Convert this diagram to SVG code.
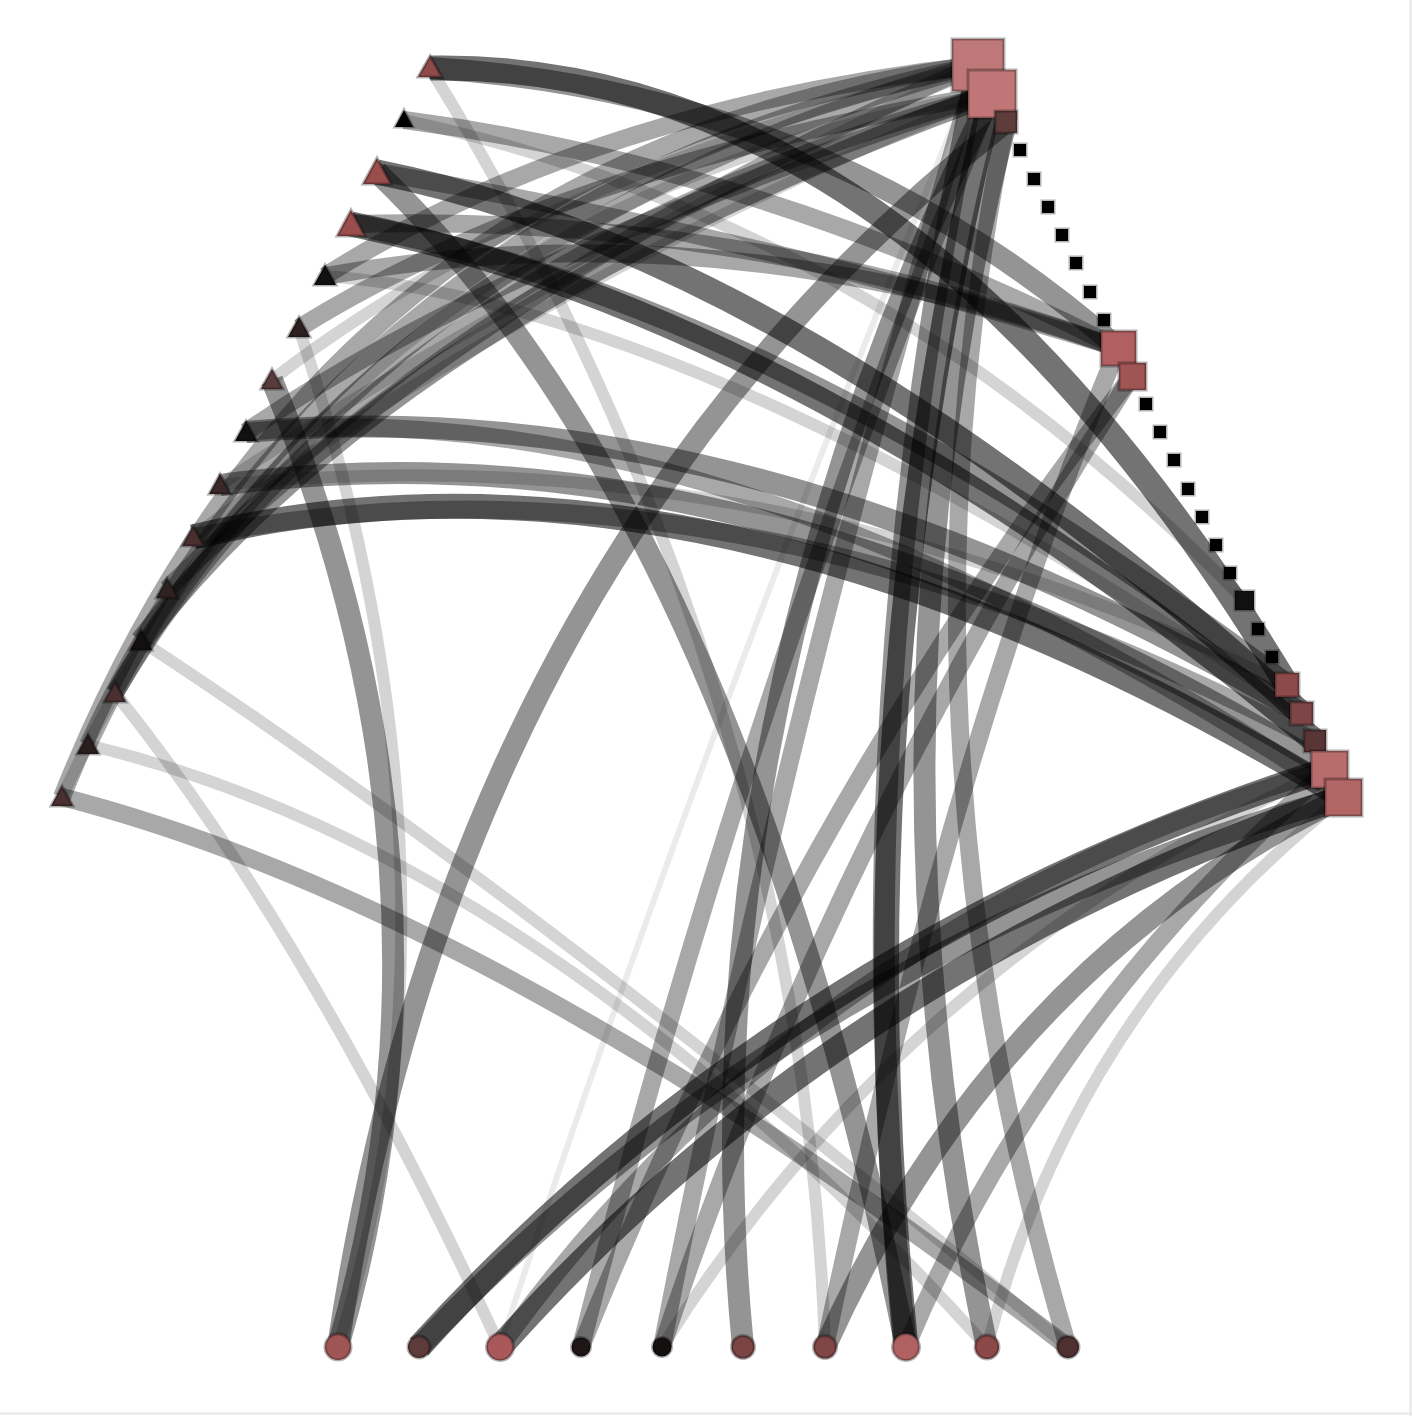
<svg xmlns="http://www.w3.org/2000/svg" width="1412" height="1416" viewBox="0 0 1412 1416">
<style>
.e{fill:none;stroke:#000;stroke-linecap:butt}
.e1{stroke-opacity:.55;stroke-width:25}
.e2{stroke-opacity:.42;stroke-width:22}
.e3{stroke-opacity:.34;stroke-width:18}
.e4{stroke-opacity:.17;stroke-width:12}
.e5{stroke-opacity:.08;stroke-width:6}
.n{stroke:#000;stroke-opacity:.3;stroke-width:3}
</style>
<rect x="0" y="0" width="1412" height="1416" fill="#fff"/>
<line x1="1410.5" y1="0" x2="1410.5" y2="1416" stroke="#e6e6e6" stroke-width="2"/>
<line x1="0" y1="1413.5" x2="1412" y2="1413.5" stroke="#e6e6e6" stroke-width="2"/>
<g id="edges">
<path class="e e1" d="M430,68 Q910,60 1287,685"/>
<path class="e e2" d="M430,68 Q826,92 1118,348"/>
<path class="e e3" d="M404,120 Q760,166 1118,348"/>
<path class="e e1" d="M377,172 Q801,257 1301,713"/>
<path class="e e3" d="M377,172 Q772,240 1118,348"/>
<path class="e e1" d="M351,224 Q808,317 1315,741"/>
<path class="e e2" d="M351,224 Q782,305 1287,685"/>
<path class="e e3" d="M351,224 Q746,213 1118,348"/>
<path class="e e3" d="M325,276 Q719,207 1118,348"/>
<path class="e e4" d="M325,276 Q707,305 1301,713"/>
<path class="e e2" d="M246,432 Q747,387 1301,713"/>
<path class="e e2" d="M220,485 Q746,413 1329,769"/>
<path class="e e4" d="M220,485 Q760,430 1287,685"/>
<path class="e e1" d="M193,537 Q712,412 1343,797"/>
<path class="e e3" d="M193,537 Q720,430 1315,741"/>
<path class="e e3" d="M246,432 Q725,385 1343,797"/>
<path class="e e4" d="M404,120 Q877,220 1244,600"/>
<path class="e e3" d="M978,65 Q320,149 62,797"/>
<path class="e e3" d="M978,65 Q346,194 88,745"/>
<path class="e e4" d="M992,94 Q340,200 62,797"/>
<path class="e e3" d="M992,94 Q366,265 115,693"/>
<path class="e e3" d="M978,65 Q380,230 115,693"/>
<path class="e e2" d="M992,94 Q393,312 141,641"/>
<path class="e e3" d="M978,65 Q487,272 167,589"/>
<path class="e e4" d="M992,94 Q527,284 193,537"/>
<path class="e e3" d="M978,65 Q589,109 325,276"/>
<path class="e e3" d="M992,94 Q555,168 299,328"/>
<path class="e e4" d="M978,65 Q535,176 272,380"/>
<path class="e e4" d="M978,65 Q521,284 220,485"/>
<path class="e e3" d="M992,94 Q501,256 246,432"/>
<path class="e e1" d="M992,94 Q841,720 906,1347"/>
<path class="e e2" d="M978,65 Q838,734 906,1347"/>
<path class="e e2" d="M1006,122 Q853,726 987,1347"/>
<path class="e e3" d="M1006,122 Q883,725 1068,1347"/>
<path class="e e2" d="M992,94 Q682,720 743,1347"/>
<path class="e e3" d="M978,65 Q780,734 662,1347"/>
<path class="e e3" d="M992,94 Q733,740 581,1347"/>
<path class="e e2" d="M1006,122 Q455,560 338,1347"/>
<path class="e e5" d="M978,65 Q701,734 500,1347"/>
<path class="e e3" d="M1132,376 Q803,798 581,1347"/>
<path class="e e3" d="M1132,376 Q823,858 662,1347"/>
<path class="e e3" d="M1118,348 Q949,753 825,1347"/>
<path class="e e1" d="M1329,769 Q786,942 419,1347"/>
<path class="e e2" d="M1343,797 Q799,948 419,1347"/>
<path class="e e1" d="M1343,797 Q838,968 500,1347"/>
<path class="e e3" d="M1329,769 Q805,922 500,1347"/>
<path class="e e2" d="M1343,797 Q996,968 825,1347"/>
<path class="e e3" d="M1329,769 Q1042,1022 906,1347"/>
<path class="e e4" d="M1329,769 Q904,962 662,1347"/>
<path class="e e4" d="M1343,797 Q1075,1008 987,1347"/>
<path class="e e2" d="M272,380 Q475,875 338,1347"/>
<path class="e e4" d="M299,328 Q482,881 338,1347"/>
<path class="e e4" d="M430,68 Q802,672 825,1347"/>
<path class="e e4" d="M115,693 Q312,939 500,1347"/>
<path class="e e3" d="M62,797 Q495,908 1068,1347"/>
<path class="e e4" d="M88,745 Q541,853 987,1347"/>
<path class="e e4" d="M141,641 Q515,885 1068,1347"/>
<path class="e e2" d="M377,172 Q739,520 906,1347"/>
</g>
<g id="L1"><path class="n" fill="#8f4a4a" d="M430,56 L442,77 L418,77 Z"/></g>
<g id="L2"><path class="n" fill="#000" d="M404,110 L413,127 L395,127 Z"/></g>
<g id="L3"><path class="n" fill="#9a4d4d" d="M377,158 L391,184 L363,184 Z"/></g>
<g id="L4"><path class="n" fill="#9a4d4d" d="M351,210 L365,236 L337,236 Z"/></g>
<g id="L5"><path class="n" fill="#111" d="M325,265 L336,285 L314,285 Z"/></g>
<g id="L6"><path class="n" fill="#2e2020" d="M299,317 L310,337 L288,337 Z"/></g>
<g id="L7"><path class="n" fill="#5a3a3a" d="M272,369 L283,389 L261,389 Z"/></g>
<g id="L8"><path class="n" fill="#111" d="M246,421 L257,441 L235,441 Z"/></g>
<g id="L9"><path class="n" fill="#3a2828" d="M220,474 L231,494 L209,494 Z"/></g>
<g id="L10"><path class="n" fill="#4a2f2f" d="M193,526 L204,546 L182,546 Z"/></g>
<g id="L11"><path class="n" fill="#2f2222" d="M167,578 L178,598 L156,598 Z"/></g>
<g id="L12"><path class="n" fill="#141010" d="M141,630 L152,650 L130,650 Z"/></g>
<g id="L13"><path class="n" fill="#4a3030" d="M115,682 L126,702 L104,702 Z"/></g>
<g id="L14"><path class="n" fill="#2a1e1e" d="M88,734 L99,754 L77,754 Z"/></g>
<g id="L15"><path class="n" fill="#4a3030" d="M62,786 L73,806 L51,806 Z"/></g>
<g id="R1"><rect class="n" fill="#bf7878" x="952" y="39" width="52" height="52"/></g>
<g id="R2"><rect class="n" fill="#c07676" x="968" y="70" width="48" height="48"/></g>
<g id="R3"><rect class="n" fill="#5e3c3c" x="995" y="111" width="22" height="22"/></g>
<g id="R4"><rect class="n" fill="#000" x="1014" y="144" width="12" height="12"/></g>
<g id="R5"><rect class="n" fill="#000" x="1028" y="173" width="12" height="12"/></g>
<g id="R6"><rect class="n" fill="#000" x="1042" y="201" width="12" height="12"/></g>
<g id="R7"><rect class="n" fill="#000" x="1056" y="229" width="12" height="12"/></g>
<g id="R8"><rect class="n" fill="#000" x="1070" y="257" width="12" height="12"/></g>
<g id="R9"><rect class="n" fill="#000" x="1084" y="286" width="12" height="12"/></g>
<g id="R10"><rect class="n" fill="#000" x="1098" y="314" width="12" height="12"/></g>
<g id="R11"><rect class="n" fill="#b06060" x="1101" y="331" width="35" height="35"/></g>
<g id="R12"><rect class="n" fill="#a05555" x="1119" y="363" width="27" height="27"/></g>
<g id="R13"><rect class="n" fill="#000" x="1140" y="398" width="12" height="12"/></g>
<g id="R14"><rect class="n" fill="#000" x="1154" y="426" width="12" height="12"/></g>
<g id="R15"><rect class="n" fill="#000" x="1168" y="454" width="12" height="12"/></g>
<g id="R16"><rect class="n" fill="#000" x="1182" y="483" width="12" height="12"/></g>
<g id="R17"><rect class="n" fill="#000" x="1196" y="511" width="12" height="12"/></g>
<g id="R18"><rect class="n" fill="#000" x="1210" y="539" width="12" height="12"/></g>
<g id="R19"><rect class="n" fill="#000" x="1224" y="567" width="12" height="12"/></g>
<g id="R20"><rect class="n" fill="#111" x="1235" y="591" width="19" height="19"/></g>
<g id="R21"><rect class="n" fill="#000" x="1252" y="623" width="12" height="12"/></g>
<g id="R22"><rect class="n" fill="#000" x="1266" y="651" width="12" height="12"/></g>
<g id="R23"><rect class="n" fill="#8c4a4a" x="1275" y="673" width="24" height="24"/></g>
<g id="R24"><rect class="n" fill="#7d4545" x="1290" y="702" width="23" height="23"/></g>
<g id="R25"><rect class="n" fill="#5a3535" x="1304" y="730" width="22" height="22"/></g>
<g id="R26"><rect class="n" fill="#b86c6c" x="1311" y="751" width="37" height="37"/></g>
<g id="R27"><rect class="n" fill="#b36666" x="1325" y="779" width="37" height="37"/></g>
<g id="B1"><circle class="n" fill="#a05555" cx="338" cy="1347" r="13"/></g>
<g id="B2"><circle class="n" fill="#5e3b3b" cx="419" cy="1347" r="11"/></g>
<g id="B3"><circle class="n" fill="#a85858" cx="500" cy="1347" r="13.5"/></g>
<g id="B4"><circle class="n" fill="#1e1616" cx="581" cy="1347" r="9.5"/></g>
<g id="B5"><circle class="n" fill="#151010" cx="662" cy="1347" r="9.5"/></g>
<g id="B6"><circle class="n" fill="#7a4444" cx="743" cy="1347" r="11.5"/></g>
<g id="B7"><circle class="n" fill="#7e4646" cx="825" cy="1347" r="11.5"/></g>
<g id="B8"><circle class="n" fill="#b06262" cx="906" cy="1347" r="13.5"/></g>
<g id="B9"><circle class="n" fill="#8a4848" cx="987" cy="1347" r="12"/></g>
<g id="B10"><circle class="n" fill="#4e3030" cx="1068" cy="1347" r="11"/></g>
</svg>
